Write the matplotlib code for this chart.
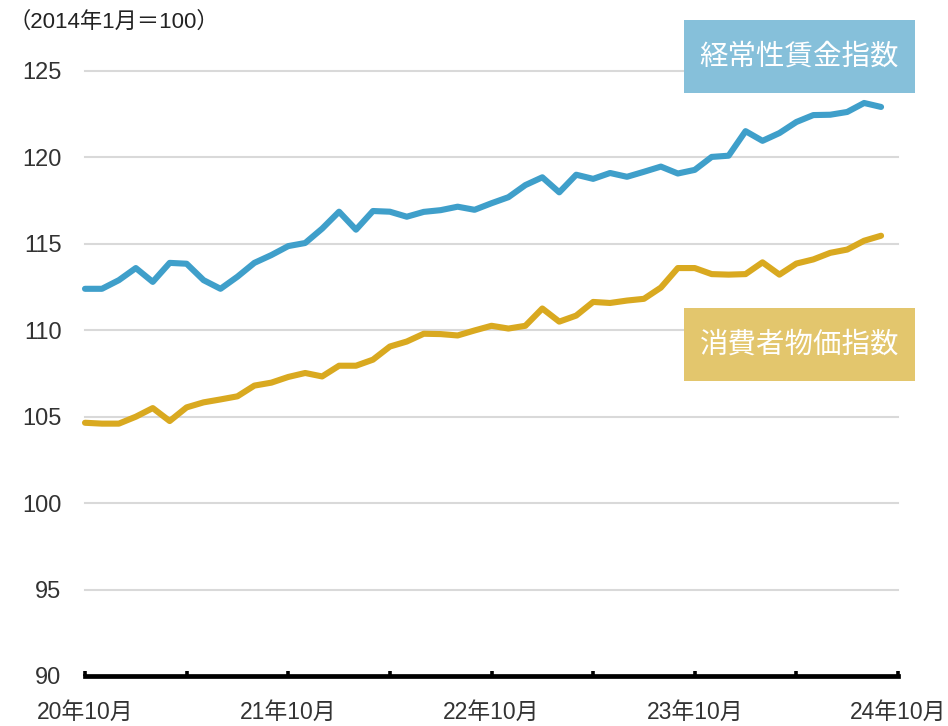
import matplotlib
matplotlib.use("Agg")
import matplotlib.pyplot as plt
from matplotlib.patches import Rectangle

# ---- data ----
months = list(range(48))  # 2020-10 .. 2024-09
wage_index = [112.4, 112.4, 112.9, 113.6, 112.8, 113.9, 113.85, 112.9, 112.4, 113.1,
              113.9, 114.35, 114.87, 115.05, 115.88, 116.86, 115.82, 116.9, 116.86, 116.57,
              116.85, 116.95, 117.15, 116.97, 117.35, 117.7, 118.4, 118.85, 117.98, 119.0,
              118.76, 119.1, 118.88, 119.17, 119.47, 119.07, 119.28, 120.03, 120.1, 121.52,
              120.96, 121.41, 122.05, 122.45, 122.47, 122.63, 123.15, 122.92]
cpi_index = [104.65, 104.6, 104.6, 105.0, 105.5, 104.75, 105.54, 105.83, 106.0, 106.18,
             106.8, 106.97, 107.3, 107.53, 107.33, 107.95, 107.95, 108.3, 109.06, 109.35,
             109.8, 109.78, 109.7, 109.99, 110.26, 110.1, 110.26, 111.26, 110.5, 110.85,
             111.64, 111.58, 111.72, 111.82, 112.47, 113.6, 113.6, 113.25, 113.22, 113.25,
             113.93, 113.22, 113.86, 114.1, 114.48, 114.67, 115.18, 115.47]
x_tick_pos = [0, 12, 24, 36, 48]
x_tick_labels = ["20年10月", "21年10月", "22年10月", "23年10月", "24年10月"]
y_ticks = [90, 95, 100, 105, 110, 115, 120, 125]
wage_label = "経常性賃金指数"
cpi_label = "消費者物価指数"
unit_label = "（2014年1月＝100）"

FONT = ["Liberation Sans", "Noto Sans CJK JP", "DejaVu Sans"]
plt.rcParams["font.family"] = FONT

W, H = 948, 726
fig = plt.figure(figsize=(W / 100, H / 100), dpi=100, facecolor="white")
ax = fig.add_axes([85 / W, (H - 676) / H, 813 / W, 605 / H])

ax.set_xlim(0, 48)
ax.set_ylim(90, 125)

for yv in y_ticks[1:]:
    ax.axhline(yv, color="#d9d9d9", lw=1.5, zorder=1, clip_on=False)

ax.plot(months, wage_index, color="#3f9fca", lw=4.4, solid_capstyle="round", zorder=3, clip_on=False)
ax.plot(months, cpi_index, color="#d9a920", lw=4.4, solid_capstyle="round", zorder=3, clip_on=False)

for s in ["top", "right", "left"]:
    ax.spines[s].set_visible(False)
ax.spines["bottom"].set_linewidth(3.4)
ax.spines["bottom"].set_color("black")
ax.spines["bottom"].set_zorder(4)

ax.set_xticks(list(range(0, 49, 6)))
ax.set_xticklabels([x_tick_labels[x_tick_pos.index(t)] if t in x_tick_pos else "" for t in range(0, 49, 6)])
ax.tick_params(axis="x", direction="in", length=3.5, width=2.6, color="black", pad=18,
               labelsize=16.5, labelcolor="#333333")
ax.set_yticks(y_ticks)
ax.set_yticklabels([str(v) for v in y_ticks])
ax.tick_params(axis="y", length=0, pad=17, labelsize=17, labelcolor="#333333")

fig.text(8 / W, 1 - 22 / H, unit_label, ha="left", va="center", fontsize=16, color="#222222")

def label_box(x0, y0, x1, y1, color, text):
    fig.patches.append(Rectangle((x0 / W, 1 - y1 / H), (x1 - x0) / W, (y1 - y0) / H,
                                 transform=fig.transFigure, facecolor=color, edgecolor="none", zorder=5))
    fig.text((x0 + x1) / 2 / W, 1 - (y0 + y1) / 2 / H, text, ha="center", va="center",
             fontsize=20.5, color="white", zorder=6, family=["Noto Sans CJK JP"])

label_box(684, 20, 915, 93, "#86c0da", wage_label)
label_box(684, 308, 915, 381, "#e3c66d", cpi_label)

fig.savefig("out.png", dpi=100, facecolor="white")
